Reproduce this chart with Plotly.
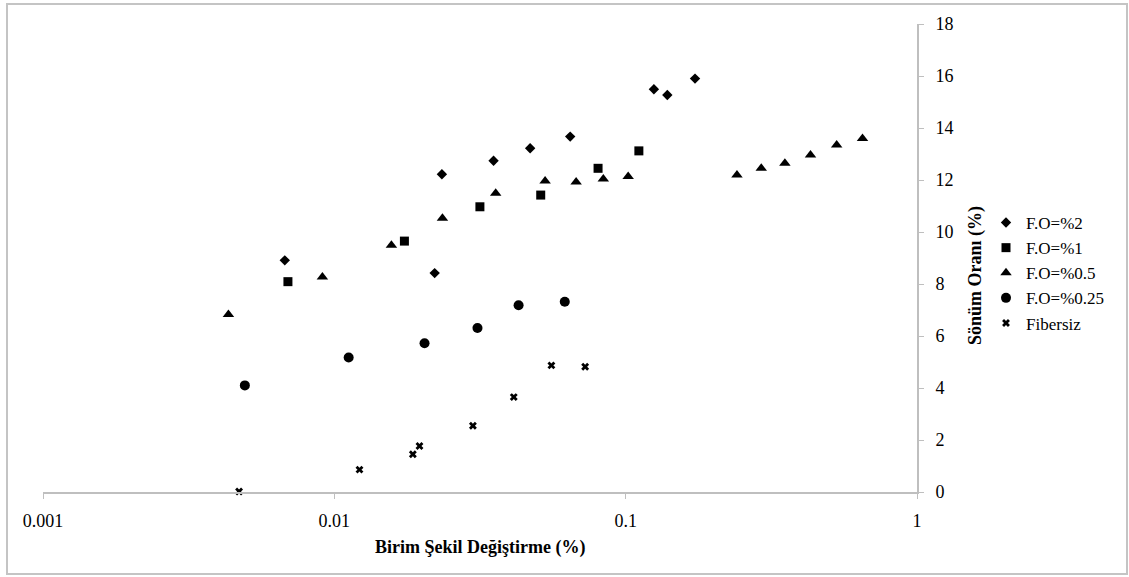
import plotly.graph_objects as go

# Birim şekil değiştirme (%) ve sönüm oranı (%) ölçümleri
fo2_strain = [0.00676, 0.0221, 0.0234, 0.0352, 0.0470, 0.0645, 0.125, 0.139, 0.173]
fo2_damping = [8.91, 8.42, 12.22, 12.74, 13.22, 13.67, 15.49, 15.27, 15.90]

fo1_strain = [0.00693, 0.0174, 0.0316, 0.0511, 0.0804, 0.111]
fo1_damping = [8.09, 9.65, 10.97, 11.42, 12.45, 13.12]

fo05_strain = [0.00433, 0.0091, 0.0157, 0.0235, 0.0358, 0.0529, 0.0676, 0.0838,
               0.102, 0.241, 0.292, 0.352, 0.431, 0.530, 0.650]
fo05_damping = [6.83, 8.27, 9.49, 10.53, 11.49, 11.96, 11.92, 12.04,
                12.13, 12.19, 12.45, 12.64, 12.96, 13.35, 13.60]

fo025_strain = [0.00493, 0.0112, 0.0204, 0.0310, 0.0429, 0.0618]
fo025_damping = [4.10, 5.17, 5.72, 6.31, 7.18, 7.32]

fibersiz_strain = [0.00471, 0.0122, 0.0186, 0.0196, 0.0299, 0.0413, 0.0556, 0.0726]
fibersiz_damping = [0.02, 0.86, 1.45, 1.77, 2.55, 3.65, 4.87, 4.82]

series_names = ["F.O=%2", "F.O=%1", "F.O=%0.5", "F.O=%0.25", "Fibersiz"]
x_tick_vals = [0.001, 0.01, 0.1, 1]
x_tick_text = ["0.001", "0.01", "0.1", "1"]
y_tick_vals = [0, 2, 4, 6, 8, 10, 12, 14, 16, 18]

FONT = "Liberation Serif, Times New Roman, serif"
AXIS_GRAY = "#bfbfbf"

series = [
    (fo2_strain, fo2_damping, "diamond", 8),
    (fo1_strain, fo1_damping, "square", 9),
    (fo05_strain, fo05_damping, "triangle-up", 10),
    (fo025_strain, fo025_damping, "circle", 10),
    (fibersiz_strain, fibersiz_damping, "x", 7),
]

fig = go.Figure()
for name, (xs, ys, sym, size) in zip(series_names, series):
    fig.add_trace(go.Scatter(
        x=xs, y=ys, mode="markers", name=name, cliponaxis=False,
        marker=dict(symbol=sym, size=size, color="black"),
    ))

W, H = 1129, 577
L, R, T, B = 43, 212, 24, 85

fig.update_layout(
    width=W, height=H,
    margin=dict(l=L, r=R, t=T, b=B, autoexpand=False),
    paper_bgcolor="white", plot_bgcolor="white",
    font=dict(family=FONT, size=18, color="black"),
    showlegend=True,
    legend=dict(
        xref="container", yref="container",
        x=986 / W, y=1 - 205 / H, xanchor="left", yanchor="top",
        font=dict(family=FONT, size=17, color="black"),
        bgcolor="rgba(0,0,0,0)", itemwidth=30, tracegroupgap=0,
    ),
    xaxis=dict(
        type="log", range=[-3, 0],
        tickvals=x_tick_vals, ticktext=x_tick_text,
        ticks="outside", ticklen=5, tickcolor=AXIS_GRAY, tickwidth=1,
        showline=True, linecolor=AXIS_GRAY, linewidth=2,
        showgrid=False, zeroline=False,
        ticklabelstandoff=6, automargin=False,
        tickfont=dict(family=FONT, size=18, color="black"),
    ),
    yaxis=dict(
        range=[0, 18], side="right",
        tickvals=y_tick_vals,
        ticks="outside", ticklen=5, tickcolor=AXIS_GRAY, tickwidth=1,
        showline=True, linecolor=AXIS_GRAY, linewidth=2,
        showgrid=False, zeroline=False,
        ticklabelstandoff=8, automargin=False,
        tickfont=dict(family=FONT, size=18, color="black"),
    ),
    annotations=[
        dict(text="<b>Birim Şekil Değiştirme (%)</b>", xref="paper", yref="paper",
             x=0.5, y=-(547 - (H - B)) / (H - T - B), xanchor="center", yanchor="middle",
             showarrow=False, font=dict(family=FONT, size=18, color="black")),
        dict(text="<b>Sönüm Oranı (%)</b>", xref="paper", yref="paper",
             x=1 + (975 - (W - R)) / (W - L - R), y=(H - B - 275) / (H - T - B),
             xanchor="center", yanchor="middle", textangle=-90,
             showarrow=False, font=dict(family=FONT, size=18, color="black")),
    ],
    shapes=[
        dict(type="rect", xref="paper", yref="paper",
             x0=(7 - L) / (W - L - R), x1=(1127 - L) / (W - L - R),
             y0=(H - B - 574) / (H - T - B), y1=(H - B - 4) / (H - T - B),
             line=dict(color="#c4c4c4", width=2), fillcolor="rgba(0,0,0,0)",
             layer="below"),
    ],
)

fig.write_html("out.html")
